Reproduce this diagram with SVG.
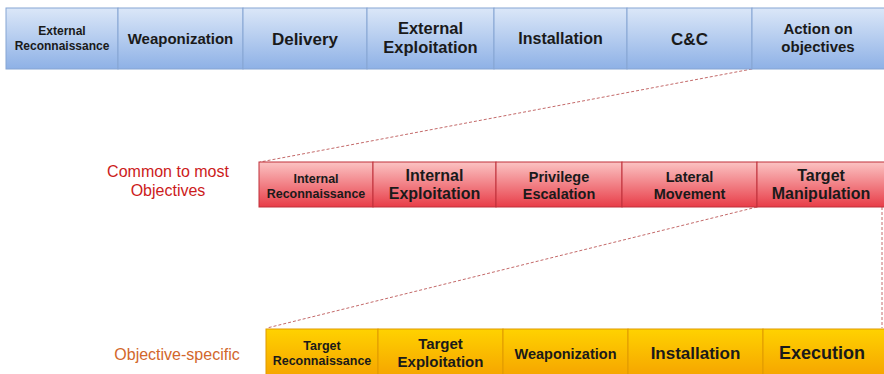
<svg xmlns="http://www.w3.org/2000/svg" width="884" height="374" viewBox="0 0 884 374">
<defs>
<linearGradient id="gB" x1="0" y1="0" x2="0" y2="1"><stop offset="0" stop-color="#dbe7f8"/><stop offset="1" stop-color="#8eb1e6"/></linearGradient>
<linearGradient id="gR" x1="0" y1="0" x2="0" y2="1"><stop offset="0" stop-color="#fbc3c3"/><stop offset="1" stop-color="#e83d48"/></linearGradient>
<linearGradient id="gO" x1="0" y1="0" x2="0" y2="1"><stop offset="0" stop-color="#ffd200"/><stop offset="1" stop-color="#f5a200"/></linearGradient>
<style>
.b{fill:url(#gB);stroke:#86a5d3;stroke-width:1}
.r{fill:url(#gR);stroke:#c0303a;stroke-width:1}
.o{fill:url(#gO);stroke:#e09a00;stroke-width:1}
text{font-family:"Liberation Sans",Arial,sans-serif;font-weight:bold;fill:#1a1a1a;text-anchor:middle}
.lbl{font-weight:normal}
.c{fill:none;stroke:#c46a6a;stroke-width:1;stroke-dasharray:3,2}
</style>
</defs>
<g id="connectors">
<line class="c" x1="752" y1="69" x2="260" y2="162"/>
<line class="c" x1="757" y1="207" x2="267" y2="328"/>
<line class="c" x1="882" y1="207" x2="882" y2="328"/>
</g>
<g id="top-row">
<g id="ext-recon"><rect class="b" x="6" y="8" width="112" height="61"/><text x="62" y="35" font-size="12">External</text><text x="62" y="50" font-size="12">Reconnaissance</text></g>
<g id="weaponization"><rect class="b" x="118" y="8" width="125" height="61"/><text x="180.5" y="44" font-size="15">Weaponization</text></g>
<g id="delivery"><rect class="b" x="243" y="8" width="124" height="61"/><text x="305" y="45" font-size="17">Delivery</text></g>
<g id="ext-exploit"><rect class="b" x="367" y="8" width="127" height="61"/><text x="430.5" y="34" font-size="16.5">External</text><text x="430.5" y="53" font-size="16.5">Exploitation</text></g>
<g id="installation"><rect class="b" x="494" y="8" width="133" height="61"/><text x="560.5" y="44" font-size="16">Installation</text></g>
<g id="cc"><rect class="b" x="627" y="8" width="125" height="61"/><text x="689.5" y="45" font-size="17">C&amp;C</text></g>
<g id="action"><rect class="b" x="752" y="8" width="140" height="61"/><text x="818" y="34" font-size="15">Action on</text><text x="818" y="52" font-size="15">objectives</text></g>
</g>
<g id="common-label"><text class="lbl" x="168" y="177" font-size="16" style="fill:#cc1b1b">Common to most</text><text class="lbl" x="168" y="196" font-size="16" style="fill:#cc1b1b">Objectives</text></g>
<g id="mid-row">
<g id="int-recon"><rect class="r" x="259" y="162" width="114" height="45"/><text x="316" y="183" font-size="12.5">Internal</text><text x="316" y="198" font-size="12.5">Reconnaissance</text></g>
<g id="int-exploit"><rect class="r" x="373" y="162" width="123" height="45"/><text x="434.5" y="181" font-size="16">Internal</text><text x="434.5" y="199" font-size="16">Exploitation</text></g>
<g id="priv-esc"><rect class="r" x="496" y="162" width="126" height="45"/><text x="559" y="182" font-size="14.5">Privilege</text><text x="559" y="199" font-size="14.5">Escalation</text></g>
<g id="lateral"><rect class="r" x="622" y="162" width="135" height="45"/><text x="689.5" y="182" font-size="14.5">Lateral</text><text x="689.5" y="199" font-size="14.5">Movement</text></g>
<g id="target-manip"><rect class="r" x="757" y="162" width="135" height="45"/><text x="821" y="181" font-size="16">Target</text><text x="821" y="199" font-size="16">Manipulation</text></g>
</g>
<g id="specific-label"><text class="lbl" x="177" y="360" font-size="16" style="fill:#d2672c">Objective-specific</text></g>
<g id="bottom-row">
<g id="tgt-recon"><rect class="o" x="266" y="329" width="112" height="50"/><text x="322" y="350" font-size="12.5">Target</text><text x="322" y="365" font-size="12.5">Reconnaissance</text></g>
<g id="tgt-exploit"><rect class="o" x="378" y="329" width="125" height="50"/><text x="440.5" y="349" font-size="15">Target</text><text x="440.5" y="367" font-size="15">Exploitation</text></g>
<g id="weap2"><rect class="o" x="503" y="329" width="125" height="50"/><text x="565.5" y="359" font-size="14.5">Weaponization</text></g>
<g id="install2"><rect class="o" x="628" y="329" width="135" height="50"/><text x="695.5" y="359" font-size="17">Installation</text></g>
<g id="execution"><rect class="o" x="763" y="329" width="130" height="50"/><text x="822" y="359" font-size="18">Execution</text></g>
</g>
</svg>
